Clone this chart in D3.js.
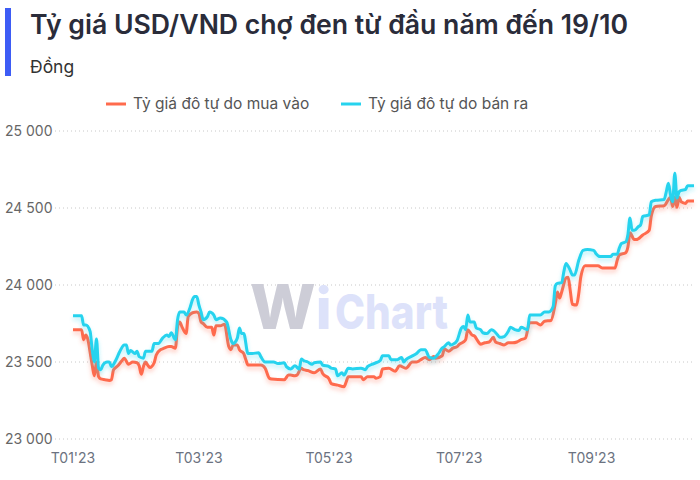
<!DOCTYPE html>
<html><head><meta charset="utf-8">
<script src="https://cdn.jsdelivr.net/npm/d3@7"></script>
<style>
html,body{margin:0;padding:0;background:#fff;}
svg{display:block;font-family:Inter,"Noto Sans",sans-serif;}
</style></head>
<body>
<svg id="chart" width="700" height="480"></svg>
<script>
const title = "Tỷ giá USD/VND chợ đen từ đầu năm đến 19/10";
const subtitle = "Đồng";
const seriesNames = ["Tỷ giá đô tự do mua vào", "Tỷ giá đô tự do bán ra"];
const seriesColors = ["#FF6B4D", "#26D3EE"];
const yTicks = [23000, 23500, 24000, 24500, 25000];
const xTickDates = ["2023-01-01", "2023-03-01", "2023-05-01", "2023-07-01", "2023-09-01"];
const xTickLabels = ["T01'23", "T03'23", "T05'23", "T07'23", "T09'23"];

const buyDates = ["2023-01-01","2023-01-04","2023-01-05","2023-01-06","2023-01-07","2023-01-08","2023-01-09","2023-01-10","2023-01-11","2023-01-12","2023-01-13","2023-01-14","2023-01-16","2023-01-18","2023-01-19","2023-01-20","2023-01-22","2023-01-24","2023-01-25","2023-01-27","2023-01-29","2023-01-31","2023-02-01","2023-02-02","2023-02-03","2023-02-04","2023-02-05","2023-02-06","2023-02-08","2023-02-09","2023-02-11","2023-02-12","2023-02-15","2023-02-16","2023-02-18","2023-02-19","2023-02-20","2023-02-21","2023-02-23","2023-02-24","2023-02-26","2023-02-28","2023-03-01","2023-03-02","2023-03-03","2023-03-05","2023-03-07","2023-03-08","2023-03-09","2023-03-11","2023-03-13","2023-03-15","2023-03-16","2023-03-17","2023-03-19","2023-03-20","2023-03-22","2023-03-23","2023-03-24","2023-03-30","2023-04-01","2023-04-03","2023-04-04","2023-04-10","2023-04-12","2023-04-13","2023-04-15","2023-04-16","2023-04-18","2023-04-19","2023-04-21","2023-04-24","2023-04-27","2023-04-28","2023-05-01","2023-05-02","2023-05-05","2023-05-08","2023-05-09","2023-05-10","2023-05-16","2023-05-17","2023-05-19","2023-05-22","2023-05-23","2023-05-25","2023-05-26","2023-05-29","2023-06-01","2023-06-03","2023-06-06","2023-06-09","2023-06-11","2023-06-13","2023-06-15","2023-06-17","2023-06-19","2023-06-20","2023-06-23","2023-06-24","2023-06-26","2023-06-28","2023-06-30","2023-07-01","2023-07-03","2023-07-04","2023-07-05","2023-07-07","2023-07-08","2023-07-10","2023-07-11","2023-07-13","2023-07-15","2023-07-17","2023-07-18","2023-07-20","2023-07-22","2023-07-24","2023-07-26","2023-07-28","2023-07-30","2023-08-01","2023-08-03","2023-08-06","2023-08-08","2023-08-10","2023-08-13","2023-08-15","2023-08-16","2023-08-17","2023-08-18","2023-08-20","2023-08-21","2023-08-22","2023-08-23","2023-08-25","2023-08-26","2023-08-27","2023-08-29","2023-09-04","2023-09-06","2023-09-12","2023-09-13","2023-09-14","2023-09-17","2023-09-18","2023-09-19","2023-09-21","2023-09-22","2023-09-25","2023-09-28","2023-09-29","2023-10-01","2023-10-05","2023-10-07","2023-10-08","2023-10-09","2023-10-10","2023-10-11","2023-10-12","2023-10-13","2023-10-15","2023-10-16","2023-10-19"];
const buyValues = [23710,23710,23710,23645,23675,23645,23565,23480,23410,23500,23405,23390,23385,23380,23385,23450,23475,23510,23525,23485,23500,23495,23475,23420,23470,23500,23480,23465,23495,23545,23580,23585,23600,23600,23590,23730,23760,23730,23685,23795,23820,23825,23815,23760,23750,23725,23725,23675,23735,23735,23745,23600,23580,23610,23610,23580,23555,23515,23480,23480,23460,23395,23390,23385,23415,23415,23410,23415,23460,23450,23445,23430,23455,23425,23390,23360,23350,23340,23370,23405,23405,23385,23405,23405,23395,23405,23455,23460,23440,23475,23460,23500,23500,23515,23530,23515,23535,23525,23540,23585,23570,23590,23600,23615,23630,23645,23710,23675,23670,23630,23615,23625,23630,23660,23630,23620,23610,23625,23625,23630,23645,23655,23755,23755,23740,23765,23770,23880,23955,23915,23955,24045,24050,23965,23875,23870,23945,24055,24125,24125,24110,24110,24160,24195,24210,24245,24340,24295,24295,24325,24355,24450,24510,24515,24555,24570,24510,24570,24505,24570,24540,24530,24545,24545];

const sellDates = ["2023-01-01","2023-01-05","2023-01-06","2023-01-07","2023-01-09","2023-01-10","2023-01-11","2023-01-12","2023-01-13","2023-01-14","2023-01-15","2023-01-17","2023-01-18","2023-01-19","2023-01-21","2023-01-23","2023-01-25","2023-01-26","2023-01-27","2023-01-28","2023-01-30","2023-01-31","2023-02-01","2023-02-03","2023-02-04","2023-02-07","2023-02-08","2023-02-10","2023-02-12","2023-02-14","2023-02-15","2023-02-16","2023-02-18","2023-02-19","2023-02-20","2023-02-22","2023-02-23","2023-02-25","2023-02-26","2023-02-27","2023-02-28","2023-03-01","2023-03-02","2023-03-03","2023-03-05","2023-03-06","2023-03-08","2023-03-09","2023-03-11","2023-03-14","2023-03-16","2023-03-17","2023-03-19","2023-03-20","2023-03-21","2023-03-22","2023-03-24","2023-03-26","2023-03-29","2023-03-30","2023-04-01","2023-04-05","2023-04-07","2023-04-10","2023-04-11","2023-04-13","2023-04-15","2023-04-17","2023-04-18","2023-04-19","2023-04-21","2023-04-23","2023-04-24","2023-04-27","2023-04-28","2023-05-01","2023-05-02","2023-05-04","2023-05-05","2023-05-07","2023-05-08","2023-05-10","2023-05-12","2023-05-16","2023-05-18","2023-05-19","2023-05-22","2023-05-25","2023-05-26","2023-05-29","2023-05-30","2023-06-02","2023-06-04","2023-06-05","2023-06-06","2023-06-09","2023-06-11","2023-06-13","2023-06-15","2023-06-17","2023-06-19","2023-06-21","2023-06-23","2023-06-24","2023-06-26","2023-06-27","2023-06-28","2023-06-30","2023-07-02","2023-07-03","2023-07-04","2023-07-05","2023-07-06","2023-07-08","2023-07-09","2023-07-11","2023-07-12","2023-07-14","2023-07-16","2023-07-17","2023-07-19","2023-07-20","2023-07-22","2023-07-24","2023-07-25","2023-07-27","2023-07-29","2023-07-30","2023-08-02","2023-08-03","2023-08-08","2023-08-10","2023-08-12","2023-08-14","2023-08-15","2023-08-16","2023-08-18","2023-08-19","2023-08-20","2023-08-22","2023-08-23","2023-08-24","2023-08-26","2023-08-28","2023-08-30","2023-09-02","2023-09-03","2023-09-05","2023-09-10","2023-09-11","2023-09-13","2023-09-14","2023-09-15","2023-09-17","2023-09-18","2023-09-19","2023-09-20","2023-09-21","2023-09-23","2023-09-24","2023-09-25","2023-09-28","2023-09-29","2023-10-01","2023-10-05","2023-10-06","2023-10-07","2023-10-08","2023-10-09","2023-10-10","2023-10-11","2023-10-12","2023-10-13","2023-10-15","2023-10-16","2023-10-19"];
const sellValues = [23800,23800,23740,23740,23700,23580,23500,23650,23460,23450,23480,23500,23500,23470,23510,23570,23610,23610,23555,23575,23555,23570,23535,23525,23570,23570,23620,23620,23655,23675,23665,23690,23645,23775,23825,23825,23805,23860,23905,23925,23925,23870,23825,23775,23795,23825,23805,23775,23785,23760,23645,23620,23655,23720,23685,23685,23555,23555,23560,23535,23500,23500,23490,23495,23470,23455,23475,23455,23520,23510,23500,23485,23495,23500,23480,23470,23460,23455,23410,23430,23415,23460,23455,23460,23450,23470,23490,23510,23540,23540,23515,23515,23530,23500,23515,23540,23555,23580,23580,23530,23525,23550,23590,23600,23625,23610,23615,23640,23720,23730,23710,23805,23760,23760,23720,23710,23690,23685,23710,23705,23675,23660,23665,23700,23725,23710,23705,23725,23710,23805,23805,23825,23825,23860,23995,24010,24015,24085,24140,24095,24065,24065,24160,24225,24230,24225,24205,24185,24185,24200,24200,24240,24270,24280,24325,24435,24355,24355,24380,24390,24445,24455,24540,24550,24555,24605,24660,24585,24540,24725,24565,24605,24615,24620,24645,24645];

const parse = d3.timeParse("%Y-%m-%d");
const buy = buyDates.map((d, i) => ({date: parse(d), value: buyValues[i]}));
const sell = sellDates.map((d, i) => ({date: parse(d), value: sellValues[i]}));

const svg = d3.select("#chart");
const defs = svg.append("defs");
seriesColors.forEach((c, i) => {
  const f = defs.append("filter").attr("id", "sh" + i)
    .attr("x", "-5%").attr("y", "-20%").attr("width", "110%").attr("height", "140%");
  f.append("feDropShadow").attr("dx", 0).attr("dy", 3).attr("stdDeviation", 2)
    .attr("flood-color", c).attr("flood-opacity", 0.35);
});

// header
svg.append("rect").attr("x", 5).attr("y", 8).attr("width", 6).attr("height", 68).attr("fill", "#3D5CF5");
svg.append("text").attr("x", 30).attr("y", 34).attr("font-size", 26.5).attr("font-weight", 600)
  .attr("fill", "#2A2C3A").attr("textLength", 598).attr("lengthAdjust", "spacingAndGlyphs").text(title);
svg.append("text").attr("x", 30).attr("y", 73).attr("font-size", 17.5)
  .attr("fill", "#333").text(subtitle);

const x = d3.scaleTime().domain([parse("2023-01-01"), parse("2023-10-19")]).range([73, 694]);
const y = d3.scaleLinear().domain([23000, 25000]).range([439, 131]);

// grid
svg.append("g").selectAll("line").data(yTicks).join("line")
  .attr("x1", 55).attr("x2", 695)
  .attr("y1", d => y(d)).attr("y2", d => y(d))
  .attr("stroke", "#c8c8c8").attr("stroke-width", 1).attr("stroke-dasharray", "1,3");

const fmt = v => d3.format(",")(v).replace(/,/g, " ");
svg.append("g").selectAll("text").data(yTicks).join("text")
  .attr("x", 5).attr("y", d => y(d)).attr("dy", "0.35em")
  .attr("font-size", 14).attr("fill", "#666").text(fmt);

// x axis labels
svg.append("g").selectAll("text").data(xTickDates).join("text")
  .attr("x", d => x(parse(d))).attr("y", 463).attr("text-anchor", "middle")
  .attr("font-size", 14).attr("fill", "#6B7280").text((d, i) => xTickLabels[i]);

// watermark (single text element)
const wm = svg.append("text").attr("x", 250).attr("y", 329).attr("font-weight", 800);
wm.append("tspan").attr("font-size", 62).attr("fill", "#CDCDD7").text("W");
wm.append("tspan").attr("font-size", 56).attr("fill", "#DDE2FA").text("i");
wm.append("tspan").attr("x", 335).attr("font-size", 48).attr("fill", "#DDE2FA")
  .attr("textLength", 113).attr("lengthAdjust", "spacingAndGlyphs").text("Chart");

// legend
const leg = [[106, 133], [341, 368]];
seriesNames.forEach((n, i) => {
  svg.append("line").attr("x1", leg[i][0]).attr("x2", leg[i][0] + 20)
    .attr("y1", 104).attr("y2", 104).attr("stroke", seriesColors[i]).attr("stroke-width", 3);
  svg.append("text").attr("x", leg[i][1]).attr("y", 104).attr("dy", "0.35em")
    .attr("font-size", 15.5).attr("fill", "#555").text(n);
});

const line = d3.line().x(d => x(d.date)).y(d => y(d.value)).curve(d3.curveMonotoneX);
[buy, sell].forEach((s, i) => {
  svg.append("path").datum(s).attr("d", line).attr("fill", "none")
    .attr("stroke", seriesColors[i]).attr("stroke-width", 3)
    .attr("stroke-linejoin", "round").attr("filter", `url(#sh${i})`);
});
</script>
</body></html>
